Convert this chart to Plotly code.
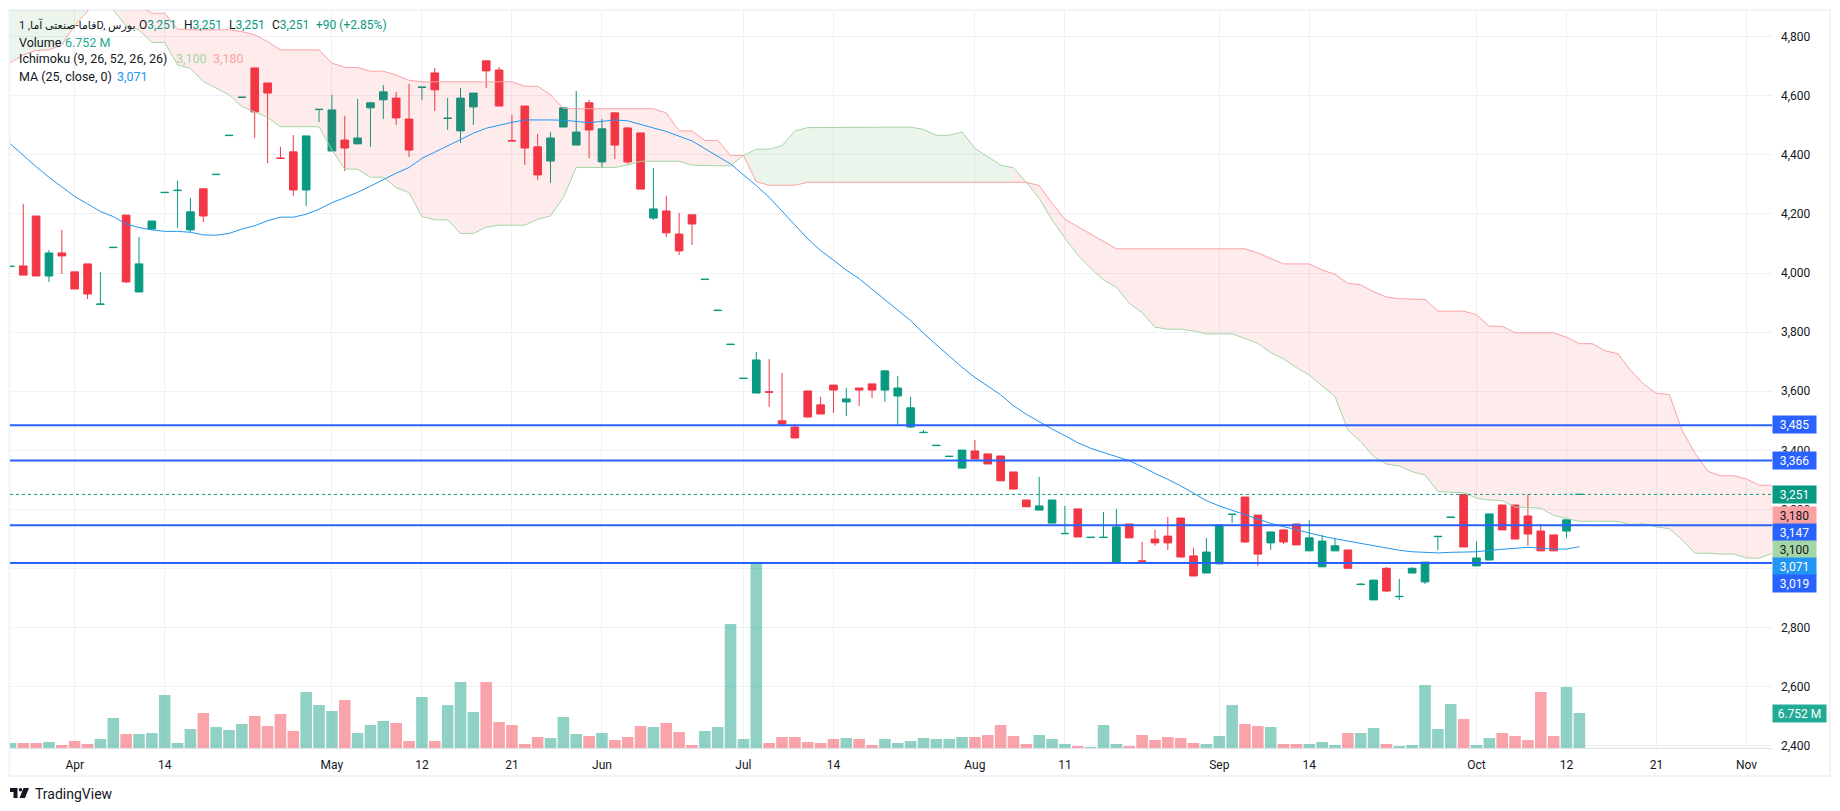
import plotly.graph_objects as go

# daily candles, index 0 is the first visible session
opens = [4022,4024,4193,3990,4068,4004,4031,3894,4086,4196,3936,4149,4272,4279,4146,4285,4333,4465,4594,4694,
         4643,4389,4410,4281,4553,4413,4450,4437,4559,4586,4592,4521,4628,4677,4523,4481,4562,4718,4687,4448,
         4565,4427,4379,4494,4433,4576,4376,4542,4491,4474,4186,4210,4132,4197,3978,3873,3758,3643,3594,3598,
         3500,3479,3601,3554,3621,3564,3611,3625,3604,3584,3479,3460,3416,3379,3340,3398,3388,3381,3327,3232,
         3198,3154,3118,3202,3105,3105,3020,3151,3026,3100,3110,3171,3043,2985,3016,3183,3242,3181,3087,3131,
         3151,3060,3006,3060,3063,2946,2894,3001,2905,2985,2955,3108,3173,3251,3009,3029,3215,3215,3178,3127,
         3114,3127,3251]
highs = [4023,4234,4193,4078,4146,4004,4031,4004,4087,4196,4122,4176,4273,4312,4254,4285,4334,4466,4595,4694,
         4643,4427,4467,4464,4554,4603,4532,4589,4579,4636,4613,4640,4629,4694,4592,4626,4609,4718,4697,4535,
         4565,4471,4477,4559,4616,4586,4521,4542,4494,4474,4356,4261,4203,4197,3979,3874,3759,3644,3733,3709,
         3662,3489,3601,3581,3621,3611,3611,3625,3669,3652,3581,3469,3417,3380,3401,3435,3388,3381,3327,3232,
         3310,3232,3212,3202,3106,3192,3202,3151,3090,3131,3175,3171,3070,3104,3148,3184,3242,3181,3124,3134,
         3151,3165,3114,3104,3063,2951,2961,3005,2965,3005,3022,3109,3174,3251,3093,3185,3215,3215,3251,3151,
         3114,3165,3251]
lows = [4022,3993,3990,3970,3997,3946,3912,3894,4086,3966,3936,4149,4272,4153,4139,4173,4333,4465,4594,4457,
        4372,4388,4261,4227,4511,4413,4345,4437,4427,4521,4501,4393,4586,4548,4484,4440,4501,4626,4565,4447,
        4366,4315,4305,4494,4433,4389,4356,4386,4369,4284,4180,4122,4061,4095,3978,3873,3758,3643,3594,3547,
        3489,3442,3510,3523,3527,3516,3550,3577,3564,3483,3476,3460,3416,3379,3340,3371,3354,3297,3269,3209,
        3198,3154,3118,3107,3105,3105,3020,3104,3025,3077,3063,3039,2975,2985,3016,3154,3087,3009,3063,3083,
        3080,3060,3006,3060,3001,2946,2894,2921,2894,2985,2948,3063,3173,3073,3009,3029,3131,3100,3077,3060,
        3060,3104,3251]
closes = [4023,3993,3990,4068,4058,3946,3929,3895,4087,3970,4031,4176,4273,4280,4207,4193,4334,4466,4595,4545,
          4609,4388,4281,4464,4554,4552,4423,4457,4576,4613,4525,4416,4629,4620,4524,4592,4609,4684,4565,4447,
          4423,4332,4457,4559,4477,4484,4488,4433,4376,4284,4217,4136,4075,4166,3979,3874,3759,3644,3706,3597,
          3489,3442,3513,3523,3604,3574,3604,3604,3669,3611,3544,3461,3417,3380,3401,3371,3354,3297,3269,3209,
          3212,3232,3119,3107,3106,3106,3141,3104,3025,3087,3087,3039,2975,3056,3148,3184,3090,3049,3124,3090,
          3080,3104,3093,3077,3001,2947,2961,2924,2906,3001,3022,3109,3174,3073,3036,3185,3131,3100,3117,3060,
          3060,3165,3251]

# volume in millions
volumes = [0.96,0.96,0.96,1.16,0.58,1.35,0.77,1.74,5.79,2.70,2.70,2.89,10.22,0.96,3.67,6.75,4.05,3.47,4.63,6.17,
           4.24,6.56,3.28,10.80,8.29,7.14,9.26,2.89,4.44,5.21,4.82,1.35,9.84,1.35,8.29,12.73,6.94,12.73,5.02,4.44,
           0.77,2.12,1.93,5.98,2.70,2.31,2.89,1.54,2.12,4.24,4.05,4.82,3.09,0.58,3.28,4.05,23.92,1.74,35.49,0.96,
           2.12,2.12,1.16,0.96,1.74,1.93,1.74,0.58,1.74,0.96,1.35,1.93,1.74,1.74,2.12,2.12,2.51,4.44,2.31,0.77,
           2.51,1.74,0.77,0.39,0.19,4.44,0.77,0.39,2.51,1.54,2.12,1.93,0.96,0.77,2.31,8.29,4.63,4.24,4.05,0.77,
           0.77,0.77,1.16,0.58,2.89,2.89,3.86,0.77,0.39,0.58,12.15,3.67,8.49,5.59,0.58,1.93,2.89,2.31,1.54,10.80,
           2.31,11.77,6.752]

ma25 = [4437,4397,4360,4324,4290,4259,4234,4208,4191,4166,4154,4146,4141,4141,4138,4129,4128,4134,4149,4160,
        4177,4189,4189,4199,4216,4238,4255,4273,4294,4316,4338,4357,4388,4409,4430,4453,4473,4490,4501,4510,
        4518,4519,4518,4517,4513,4509,4513,4518,4515,4504,4491,4479,4464,4447,4421,4396,4369,4332,4296,4256,
        4211,4163,4116,4076,4044,4010,3981,3945,3909,3875,3839,3796,3757,3717,3681,3647,3618,3588,3551,3522,
        3497,3472,3450,3426,3407,3393,3381,3365,3345,3322,3302,3280,3255,3230,3212,3197,3181,3167,3153,3142,
        3131,3119,3110,3101,3093,3086,3077,3068,3062,3057,3054,3053,3055,3057,3057,3062,3065,3068,3072,3069,
        3066,3066,3074]

# ichimoku spans, they run 15 sessions past the last candle
span_a = [5100,5100,5100,5100,5100,5100,5100,4960,4890,4836,4823,4780,4780,4704,4693,4648,4625,4603,4563,4546,
          4527,4495,4495,4495,4495,4416,4352,4351,4324,4324,4289,4272,4191,4180,4180,4134,4134,4155,4162,4162,
          4162,4182,4193,4256,4357,4357,4357,4357,4366,4378,4378,4378,4378,4365,4363,4363,4363,4398,4419,4419,
          4431,4481,4492,4492,4492,4492,4494,4494,4494,4494,4494,4486,4466,4466,4477,4422,4394,4365,4356,4307,
          4253,4180,4118,4061,4016,3977,3952,3898,3866,3817,3810,3810,3804,3794,3794,3794,3779,3762,3731,3709,
          3680,3655,3618,3582,3469,3430,3379,3354,3347,3328,3317,3261,3258,3257,3238,3232,3230,3208,3207,3204,
          3180,3169,3160,3160,3160,3160,3149,3152,3141,3135,3097,3052,3052,3049,3049,3036,3035,3052]
span_b = [4712,4738,4753,4755,4772,4839,4885,4960,5000,5000,4905,4879,4879,4825,4823,4823,4823,4823,4817,4806,
          4783,4755,4755,4755,4755,4710,4696,4695,4683,4683,4670,4652,4647,4647,4647,4647,4647,4647,4647,4647,
          4632,4632,4603,4557,4556,4556,4556,4556,4556,4556,4556,4542,4481,4481,4449,4449,4398,4398,4309,4297,
          4297,4297,4307,4307,4307,4307,4307,4307,4307,4307,4307,4307,4307,4307,4307,4307,4307,4307,4307,4307,
          4296,4236,4182,4157,4132,4106,4082,4082,4082,4082,4082,4082,4082,4082,4082,4082,4082,4068,4049,4031,
          4031,4031,4010,3996,3965,3960,3937,3919,3913,3912,3911,3871,3871,3871,3859,3820,3820,3798,3798,3798,
          3798,3783,3761,3761,3737,3727,3670,3624,3593,3589,3467,3390,3329,3314,3314,3303,3282,3282]
cloud_splits = [0, 7, 57, 78, 137]
cloud_colors = ["rgba(67,160,71,0.1)", "rgba(242,54,69,0.1)", "rgba(67,160,71,0.1)", "rgba(242,54,69,0.1)"]

level_lines = [3485, 3366, 3147, 3019]
last_price = 3251

tick_index = [5, 12, 25, 32, 39, 46, 57, 64, 75, 82, 94, 101, 114, 121, 128, 135]
tick_labels = ["Apr", "14", "May", "12", "21", "Jun", "Jul", "14", "Aug", "11", "Sep", "14", "Oct", "12", "21", "Nov"]
price_ticks = [2400, 2600, 2800, 3000, 3200, 3400, 3600, 3800, 4000, 4200, 4400, 4600, 4800]

GREEN = "#089981"
RED = "#F23645"
BLUE = "#2962FF"
TEXT = "#131722"
FONT = "Roboto, 'DejaVu Sans', sans-serif"

idx = list(range(len(closes)))
cloud_idx = list(range(len(span_a)))
vol_colors = ["rgba(8,153,129,0.45)" if c >= o else "rgba(242,54,69,0.45)" for o, c in zip(opens, closes)]

# plot area in page pixels
L, R, T, B = 10, 1772, 10, 748


def fx(px):
    return (px - L) / (R - L)


def fy(py):
    return (B - py) / (B - T)


fig = go.Figure()

fig.add_trace(go.Bar(x=idx, y=volumes, marker_color=vol_colors, marker_line_width=0, yaxis="y"))

# cloud fill, one pair of traces per colour run
for n in range(len(cloud_colors)):
    a = cloud_splits[n]
    b = cloud_splits[n + 1] + 1
    fig.add_trace(go.Scatter(x=cloud_idx[a:b], y=span_b[a:b], mode="lines", line_width=0, yaxis="y2"))
    fig.add_trace(go.Scatter(x=cloud_idx[a:b], y=span_a[a:b], mode="lines", line_width=0, yaxis="y2",
                             fill="tonexty", fillcolor=cloud_colors[n]))

fig.add_trace(go.Scatter(x=cloud_idx, y=span_a, mode="lines", line=dict(color="#A5D6A7", width=1), yaxis="y2"))
fig.add_trace(go.Scatter(x=cloud_idx, y=span_b, mode="lines", line=dict(color="#FAA1A4", width=1), yaxis="y2"))
fig.add_trace(go.Scatter(x=idx, y=ma25, mode="lines", line=dict(color="#2196F3", width=1), yaxis="y2"))

fig.add_trace(go.Candlestick(
    x=idx, open=opens, high=highs, low=lows, close=closes, yaxis="y2",
    increasing=dict(line=dict(color=GREEN, width=1), fillcolor=GREEN),
    decreasing=dict(line=dict(color=RED, width=1), fillcolor=RED),
))

shapes = [dict(type="rect", xref="paper", yref="paper", x0=fx(9.5), x1=fx(1830), y0=fy(10), y1=fy(776),
               line=dict(color="#F0F3FA", width=2), layer="below")]
for level in level_lines:
    shapes.append(dict(type="line", xref="paper", yref="y2", x0=0, x1=1, y0=level, y1=level,
                       line=dict(color=BLUE, width=2)))
shapes.append(dict(type="line", xref="paper", yref="y2", x0=0, x1=1, y0=last_price, y1=last_price,
                   line=dict(color=GREEN, width=1, dash="dot")))

# logo mark
logo = [
    [(10, 788), (17.5, 788), (17.5, 798), (13.5, 798), (13.5, 792), (10, 792)],
    [(23.5, 788), (29, 788), (25, 798), (19.5, 798)],
]
for poly in logo:
    path = "M " + " L ".join(f"{fx(x):.5f} {fy(y):.5f}" for x, y in poly) + " Z"
    shapes.append(dict(type="path", xref="paper", yref="paper", path=path, fillcolor=TEXT, line_width=0))
shapes.append(dict(type="circle", xref="paper", yref="paper", x0=fx(18.8), x1=fx(22.2), y0=fy(788), y1=fy(791.4),
                   fillcolor=TEXT, line_width=0))


def span(text, color):
    return f'<span style="color:{color}">{text}</span>'


def legend_line(px, py, text, size=12.5):
    return dict(x=fx(px), y=fy(py), xref="paper", yref="paper", text=text, showarrow=False,
                xanchor="left", yanchor="middle", font=dict(family=FONT, size=size, color=TEXT))


def price_tag(py, label, bg, fg, width=43):
    return dict(x=fx(1772), y=fy(py), xref="paper", yref="paper", text=label, showarrow=False,
                xanchor="left", yanchor="middle", width=width, height=17, align="center", borderpad=0,
                bgcolor=bg, font=dict(family=FONT, size=12, color=fg))


annotations = [
    legend_line(16.5, 25, "فاما-صنعتی آما, 1D, بورس", size=11),
    legend_line(136.5, 25, "O" + span("3,251", GREEN), size=12),
    legend_line(181.5, 25, "H" + span("3,251", GREEN), size=12),
    legend_line(226.5, 25, "L" + span("3,251", GREEN), size=12),
    legend_line(269.5, 25, "C" + span("3,251", GREEN), size=12),
    legend_line(313.5, 25, span("+90 (+2.85%)", GREEN), size=12),
    legend_line(16.5, 42, "Volume"),
    legend_line(62.5, 42, span("6.752 M", "#22AB94")),
    legend_line(16.5, 59, "Ichimoku (9, 26, 52, 26, 26)"),
    legend_line(173.5, 59, span("3,100", "#A5D6A7")),
    legend_line(210.5, 59, span("3,180", "#FAA1A4")),
    legend_line(16.5, 76, "MA (25, close, 0)"),
    legend_line(114.5, 76, span("3,071", "#2196F3")),
    price_tag(424.5, "3,485", BLUE, "white"),
    price_tag(460.5, "3,366", BLUE, "white"),
    price_tag(494.5, "3,251", GREEN, "white"),
    price_tag(515.5, "3,180", "#FAA1A4", TEXT),
    price_tag(532.5, "3,147", BLUE, "white"),
    price_tag(549.5, "3,100", "#A5D6A7", TEXT),
    price_tag(566.5, "3,071", "#2196F3", "white"),
    price_tag(583.5, "3,019", BLUE, "white"),
    price_tag(713.5, "6.752 M", "#22AB94", "white", width=53),
    dict(x=fx(33), y=fy(794), xref="paper", yref="paper", text="TradingView", showarrow=False,
         xanchor="left", yanchor="middle", font=dict(family=FONT, size=14, color=TEXT)),
]

fig.update_layout(
    width=1840,
    height=811,
    margin=dict(l=L, r=1840 - R, t=T, b=811 - B),
    paper_bgcolor="white",
    plot_bgcolor="white",
    showlegend=False,
    bargap=0.1,
    boxgap=0.15,
    font=dict(family=FONT, size=12, color=TEXT),
    xaxis=dict(range=[-0.03, 136.98], tickmode="array", tickvals=tick_index, ticktext=tick_labels,
               rangeslider_visible=False, showgrid=True, gridcolor="#F0F1F4", zeroline=False,
               showline=True, linecolor="#E0E3EB", ticks="", ticklabelstandoff=6),
    yaxis=dict(range=[0, 142.4], visible=False, showgrid=False, zeroline=False),
    yaxis2=dict(range=[2393, 4890], overlaying="y", side="right", anchor="x", tickmode="array",
                tickvals=price_ticks, tickformat=",", showgrid=True, gridcolor="#F0F1F4",
                zeroline=False, showline=False, ticks="", ticklabelstandoff=8),
    shapes=shapes,
    annotations=annotations,
)

fig.write_html("out.html", config=dict(displayModeBar=False),
               post_script="document.body.style.margin='0';document.body.style.overflow='hidden';")
